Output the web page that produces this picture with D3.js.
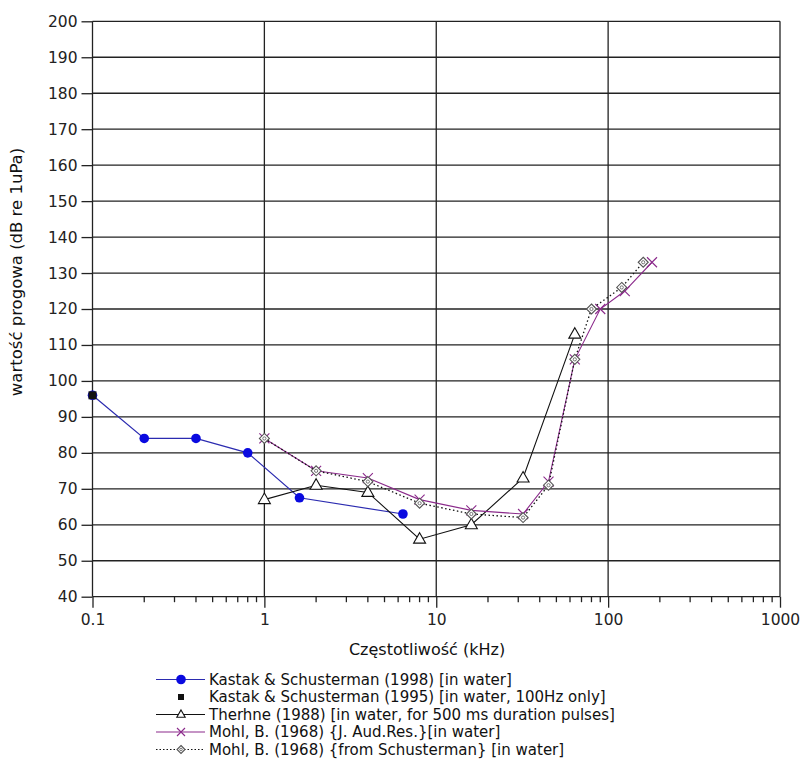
<!DOCTYPE html>
<html>
<head>
<meta charset="utf-8">
<script src="https://cdn.jsdelivr.net/npm/d3@7"></script>
<style>
  html, body { margin: 0; padding: 0; background: #fff; }
  svg { display: block; }
</style>
</head>
<body>
<svg id="chart" width="800" height="782"></svg>
<script>
// ---- data ----
const kastak98Freq = [0.1, 0.2, 0.4, 0.8, 1.6, 6.4];
const kastak98Val  = [96, 84, 84, 80, 67.5, 63];
const kastak95Freq = [0.1];
const kastak95Val  = [96];
const terhuneFreq  = [1, 2, 4, 8, 16, 32, 64];
const terhuneVal   = [67, 71, 69, 56, 60, 73, 113];
const mohlJarFreq  = [1, 2, 4, 8, 16, 32, 45, 64, 90, 125, 180];
const mohlJarVal   = [84, 75, 73, 67, 64, 63, 72, 106, 120, 125, 133];
const mohlSchFreq  = [1, 2, 4, 8, 16, 32, 45, 64, 80, 120, 160];
const mohlSchVal   = [84, 75, 72, 66, 63, 62, 71, 106, 120, 126, 133];
const xTickValues  = [0.1, 1, 10, 100, 1000];
const xTickLabels  = ["0.1", "1", "10", "100", "1000"];
const yTickValues  = [40, 50, 60, 70, 80, 90, 100, 110, 120, 130, 140, 150, 160, 170, 180, 190, 200];
const legendLabels = [
  "Kastak & Schusterman (1998) [in water]",
  "Kastak & Schusterman (1995) [in water, 100Hz only]",
  "Therhne (1988) [in water, for 500 ms duration pulses]",
  "Mohl, B. (1968) {J. Aud.Res.}[in water]",
  "Mohl, B. (1968) {from Schusterman} [in water]"
];
const xTitle = "Częstotliwość (kHz)";
const yTitle = "wartość progowa (dB re 1uPa)";

// ---- layout ----
const svg = d3.select("#chart");
const x = d3.scaleLog().domain([0.1, 1000]).range([92.5, 780]);
const y = d3.scaleLinear().domain([40, 200]).range([596.7, 21.3]);
const gridColor = "#222";
const font = "'DejaVu Sans', Verdana, sans-serif";

const zip = (a, b) => a.map((v, i) => ({f: v, v: b[i]}));

// grid
const grid = svg.append("g");
grid.selectAll("line.h").data(yTickValues).join("line")
  .attr("x1", x(0.1)).attr("x2", x(1000))
  .attr("y1", d => y(d)).attr("y2", d => y(d))
  .attr("stroke", gridColor).attr("stroke-width", 1.3);
grid.selectAll("line.v").data(xTickValues).join("line")
  .attr("x1", d => x(d)).attr("x2", d => x(d))
  .attr("y1", y(200)).attr("y2", y(40))
  .attr("stroke", gridColor).attr("stroke-width", 1.3);

// y axis
const yAxis = d3.axisLeft(y).tickValues(yTickValues).tickSize(11).tickPadding(4);
const gy = svg.append("g").attr("transform", `translate(${x(0.1)},0)`).call(yAxis);
gy.select(".domain").remove();
gy.selectAll(".tick line").attr("stroke", gridColor).attr("stroke-width", 1.3);
gy.selectAll(".tick text").attr("font-family", font).attr("font-size", 15.5).attr("fill", "#222");

// x axis: minor ticks
const minor = [];
for (let e = -1; e < 3; e++) for (let k = 2; k <= 9; k++) minor.push(k * Math.pow(10, e));
svg.append("g").selectAll("line").data(minor).join("line")
  .attr("x1", d => x(d)).attr("x2", d => x(d))
  .attr("y1", y(40)).attr("y2", y(40) + 5.5)
  .attr("stroke", gridColor).attr("stroke-width", 1.3);
const xAxis = d3.axisBottom(x).tickValues(xTickValues)
  .tickFormat((d, i) => xTickLabels[i]).tickSize(11).tickPadding(6);
const gx = svg.append("g").attr("transform", `translate(0,${y(40)})`).call(xAxis);
gx.select(".domain").remove();
gx.selectAll(".tick line").attr("stroke", gridColor).attr("stroke-width", 1.3);
gx.selectAll(".tick text").attr("font-family", font).attr("font-size", 15.5).attr("fill", "#222");

// titles
svg.append("text").attr("x", 427).attr("y", 655).attr("text-anchor", "middle")
  .attr("font-family", font).attr("font-size", 16).attr("fill", "#111").text(xTitle);
svg.append("text").attr("transform", "translate(22,272) rotate(-90)").attr("text-anchor", "middle")
  .attr("font-family", font).attr("font-size", 16.5).attr("fill", "#111").text(yTitle);

// ---- series ----
const line = d3.line().x(d => x(d.f)).y(d => y(d.v));
const BLUE_LINE = "#2b2bb0", BLUE = "#0a0ae0", PURPLE = "#8b2a8b";

function drawSquare(g, cx, cy) {
  g.append("rect").attr("x", cx - 4).attr("y", cy - 4).attr("width", 8).attr("height", 8).attr("fill", "#111");
}
function drawCircle(g, cx, cy) {
  g.append("circle").attr("cx", cx).attr("cy", cy).attr("r", 4.8).attr("fill", BLUE);
}
function drawTriangle(g, cx, cy, s) {
  s = s || 1;
  g.append("path").attr("d", `M${cx},${cy - 6.5 * s}L${cx + 6 * s},${cy + 4 * s}L${cx - 6 * s},${cy + 4 * s}Z`)
    .attr("fill", "#fff").attr("stroke", "#111").attr("stroke-width", 1.1);
}
function drawX(g, cx, cy, s) {
  s = s || 1;
  const r = 5 * s;
  g.append("path").attr("d", `M${cx - r},${cy - r}L${cx + r},${cy + r}M${cx - r},${cy + r}L${cx + r},${cy - r}`)
    .attr("stroke", PURPLE).attr("stroke-width", 1.1).attr("fill", "none");
}
function drawDiamond(g, cx, cy, s) {
  s = s || 1;
  const r = 5 * s;
  g.append("path").attr("d", `M${cx},${cy - r}L${cx + r},${cy}L${cx},${cy + r}L${cx - r},${cy}Z`)
    .attr("fill", "#fff").attr("stroke", "#555").attr("stroke-width", 1.1);
  g.append("circle").attr("cx", cx).attr("cy", cy).attr("r", 1.6 * s)
    .attr("fill", "none").attr("stroke", "#666").attr("stroke-width", 0.9);
}

const plot = svg.append("g");

// Kastak 1998
const k98 = zip(kastak98Freq, kastak98Val);
plot.append("path").attr("d", line(k98)).attr("fill", "none").attr("stroke", BLUE_LINE).attr("stroke-width", 1.2);
k98.forEach(d => drawCircle(plot, x(d.f), y(d.v)));

// Therhne
const th = zip(terhuneFreq, terhuneVal);
plot.append("path").attr("d", line(th)).attr("fill", "none").attr("stroke", "#111").attr("stroke-width", 1.1);
th.forEach(d => drawTriangle(plot, x(d.f), y(d.v)));

// Mohl JAR
const mj = zip(mohlJarFreq, mohlJarVal);
plot.append("path").attr("d", line(mj)).attr("fill", "none").attr("stroke", PURPLE).attr("stroke-width", 1.1);
mj.forEach(d => drawX(plot, x(d.f), y(d.v)));

// Mohl Schusterman
const ms = zip(mohlSchFreq, mohlSchVal);
plot.append("path").attr("d", line(ms)).attr("fill", "none").attr("stroke", "#111")
  .attr("stroke-width", 1.3).attr("stroke-dasharray", "1.5,2.5");
ms.forEach(d => drawDiamond(plot, x(d.f), y(d.v)));

// Kastak 1995 (square on top)
zip(kastak95Freq, kastak95Val).forEach(d => drawSquare(plot, x(d.f), y(d.v)));

// ---- legend ----
const lg = svg.append("g");
const rowY = [679.5, 697, 714.5, 732, 749.5];
const lx0 = 156, lx1 = 205, lm = 181;
legendLabels.forEach((lab, i) => {
  const cy = rowY[i];
  if (i === 0) {
    lg.append("line").attr("x1", lx0).attr("x2", lx1).attr("y1", cy).attr("y2", cy).attr("stroke", BLUE_LINE).attr("stroke-width", 1.2);
    drawCircle(lg, lm, cy);
  } else if (i === 1) {
    lg.append("rect").attr("x", lm - 3).attr("y", cy - 3).attr("width", 6).attr("height", 6).attr("fill", "#111");
  } else if (i === 2) {
    lg.append("line").attr("x1", lx0).attr("x2", lx1).attr("y1", cy).attr("y2", cy).attr("stroke", "#111").attr("stroke-width", 1.1);
    drawTriangle(lg, lm, cy, 0.7);
  } else if (i === 3) {
    lg.append("line").attr("x1", lx0).attr("x2", lx1).attr("y1", cy).attr("y2", cy).attr("stroke", PURPLE).attr("stroke-width", 1.1);
    drawX(lg, lm, cy, 0.8);
  } else {
    lg.append("line").attr("x1", lx0).attr("x2", lx1).attr("y1", cy).attr("y2", cy).attr("stroke", "#111")
      .attr("stroke-width", 1.2).attr("stroke-dasharray", "1.5,2");
    drawDiamond(lg, lm, cy, 0.8);
  }
  lg.append("text").attr("x", 209).attr("y", cy + 5.4).attr("font-family", font)
    .attr("font-size", 15).attr("fill", "#111").text(lab);
});
</script>
</body>
</html>
